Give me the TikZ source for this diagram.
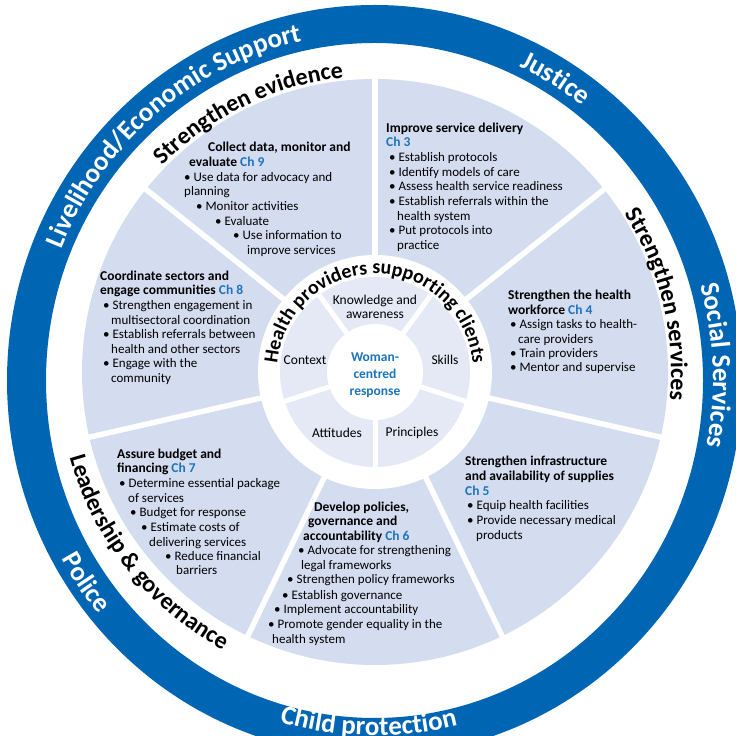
\documentclass[tikz,border=0pt]{standalone}
\usepackage{fontspec}
\setmainfont{Carlito}
\usetikzlibrary{decorations.text}

\definecolor{ringblue}{RGB}{0,101,179}
\definecolor{segblue}{RGB}{212,220,239}
\definecolor{innerblue}{RGB}{229,233,246}
\definecolor{chblue}{RGB}{28,117,188}

\newcommand\ch[1]{\textcolor{chblue}{#1}}
\newcommand\bl{\textbullet\ }
\newcommand\ringfont{\fontsize{27}{27}\selectfont\bfseries}
\newcommand\labelfont{\fontsize{24}{24}\selectfont\bfseries}
\newcommand\hpfont{\fontsize{20}{20}\selectfont\bfseries}

\begin{document}
\begin{tikzpicture}[x=1pt, y=1pt,
    body/.style={anchor=base west, inner sep=0pt, font=\fontsize{13}{14.7}\selectfont},
    head/.style={body, font=\fontsize{13.5}{14.7}\selectfont\bfseries},
    inner/.style={align=center, inner sep=0pt, font=\fontsize{13.5}{14}\selectfont},
    ringtext/.style={decorate, decoration={text along path, text align=center, text color=white, text={|\ringfont|#1}}},
    seclabel/.style={decorate, decoration={text along path, text align=center, text={|\labelfont|#1}}},
    hplabel/.style={decorate, decoration={text along path, text align=center, text={|\hpfont|#1}}}]

    \useasboundingbox (0, 0) rectangle (736, 736);
    \clip (0, 0) rectangle (736, 736);

    \coordinate (c) at (375, 364);
    \coordinate (r) at (374.5, 355.5);

    \fill[ringblue, even odd rule] (r) ellipse [x radius=367.5, y radius=375.5]
        (r) ellipse [x radius=328.5, y radius=337.5];

    \fill[segblue] (c) circle (293);
    \foreach \i in {0, 1, ..., 6} {
        \draw[white, line width=5.5pt] (c) -- ++({90-\i*360/7}:300);
    }
    \fill[white] (c) circle (117);
    \fill[innerblue] (c) circle (95);
    \foreach \i in {0, 1, ..., 4} {
        \draw[white, line width=5pt] (c) -- ++({270+\i*72}:100);
    }
    \fill[white] (c) circle (48);

    \begin{scope}[shift={(r)}]
        \path[ringtext={Livelihood/Economic Support}] (165:338.5 and 347.5) arc [start angle=165, end angle=95, x radius=338.5, y radius=347.5];
        \path[ringtext={Justice}] (80:338.5 and 347.5) arc [start angle=80, end angle=37, x radius=338.5, y radius=347.5];
        \path[ringtext={Social Services}] (30:338.5 and 347.5) arc [start angle=30, end angle=-25, x radius=338.5, y radius=347.5];
        \path[ringtext={Police}] (190:358.5 and 366.5) arc [start angle=190, end angle=239, x radius=358.5, y radius=366.5];
        \path[ringtext={Child protection}] (235:347 and 355) arc [start angle=235, end angle=303, x radius=347, y radius=355];
    \end{scope}

    \begin{scope}[shift={(c)}]
        \path[seclabel={Strengthen evidence}] (146:296) arc [start angle=146, end angle=86, radius=296];
        \path[seclabel={Strengthen services}] (43:296) arc [start angle=43, end angle=-16, radius=296];
        \path[seclabel={Leadership {\&} governance}] (185:317) arc [start angle=185, end angle=252, radius=317];
        \path[hplabel={Health providers supporting clients}] (190:98) arc [start angle=190, end angle=-10, radius=98];
    \end{scope}

    \node[inner] (know) at (375, 429) {Knowledge and\\awareness};
    \node[inner] (context) at (305, 376) {Context};
    \node[inner] (skills) at (445, 376) {Skills};
    \node[inner] (attitudes) at (337, 303) {Attitudes};
    \node[inner] (principles) at (412, 303) {Principles};
    \node[inner, font=\fontsize{13.5}{17}\selectfont\bfseries, text=chblue] (woman) at (375, 361) {Woman-\\centred\\response};

    \foreach \s/\x/\y/\t [count=\n] in {
        head/208/148/{Collect data, monitor and},
        head/189/163/{evaluate \ch{Ch 9}},
        body/184/178/{\bl Use data for advocacy and},
        body/184/192/planning,
        body/196/207/{\bl Monitor activities},
        body/215/222/{\bl Evaluate},
        body/233/236/{\bl Use information to},
        body/247/251/{improve services}} {
        \node[\s] (evid-\n) at (\x, 732-\y) {\t};
    }

    \foreach \s/\x/\y/\t [count=\n] in {
        head/100/277/{Coordinate sectors and},
        head/100/291/{engage communities \ch{Ch 8}},
        body/103/306/{\bl Strengthen engagement in},
        body/111/321/{multisectoral coordination},
        body/103/335/{\bl Establish referrals between},
        body/111/350/{health and other sectors},
        body/103/364/{\bl Engage with the},
        body/111/379/community} {
        \node[\s] (coord-\n) at (\x, 732-\y) {\t};
    }

    \foreach \s/\x/\y/\t [count=\n] in {
        head/386/129/{Improve service delivery},
        head/386/143/{\ch{Ch 3}},
        body/389/158/{\bl Establish protocols},
        body/389/173/{\bl Identify models of care},
        body/389/187/{\bl Assess health service readiness},
        body/389/202/{\bl Establish referrals within the},
        body/397/217/{health system},
        body/389/231/{\bl Put protocols into},
        body/397/246/practice} {
        \node[\s] (deliv-\n) at (\x, 732-\y) {\t};
    }

    \foreach \s/\x/\y/\t [count=\n] in {
        head/508/296/{Strengthen the health},
        head/508/311/{workforce \ch{Ch 4}},
        body/510/325/{\bl Assign tasks to health-},
        body/518/340/{care providers},
        body/510/354/{\bl Train providers},
        body/510/368/{\bl Mentor and supervise}} {
        \node[\s] (work-\n) at (\x, 732-\y) {\t};
    }

    \foreach \s/\x/\y/\t [count=\n] in {
        head/465/462/{Strengthen infrastructure},
        head/465/477/{and availability of supplies},
        head/465/492/{\ch{Ch 5}},
        body/467/506/{\bl Equip health facilities},
        body/467/521/{\bl Provide necessary medical},
        body/476/536/products} {
        \node[\s] (infra-\n) at (\x, 732-\y) {\t};
    }

    \foreach \s/\x/\y/\t [count=\n] in {
        head/314/508/{Develop policies,},
        head/308/522/{governance and},
        head/303/537/{accountability \ch{Ch 6}},
        body/298/551/{\bl Advocate for strengthening},
        body/301/566/{legal frameworks},
        body/287/580/{\bl Strengthen policy frameworks},
        body/282/596/{\bl Establish governance},
        body/274/610/{\bl Implement accountability},
        body/268/625/{\bl Promote gender equality in the},
        body/272/640/{health system}} {
        \node[\s] (policy-\n) at (\x, 732-\y) {\t};
    }

    \foreach \s/\x/\y/\t [count=\n] in {
        head/117/455/{Assure budget and},
        head/117/469/{financing \ch{Ch 7}},
        body/119/484/{\bl Determine essential package},
        body/128/499/{of services},
        body/130/513/{\bl Budget for response},
        body/141/528/{\bl Estimate costs of},
        body/149/543/{delivering services},
        body/165/557/{\bl Reduce financial},
        body/176/571/barriers} {
        \node[\s] (budget-\n) at (\x, 732-\y) {\t};
    }
\end{tikzpicture}
\end{document}
